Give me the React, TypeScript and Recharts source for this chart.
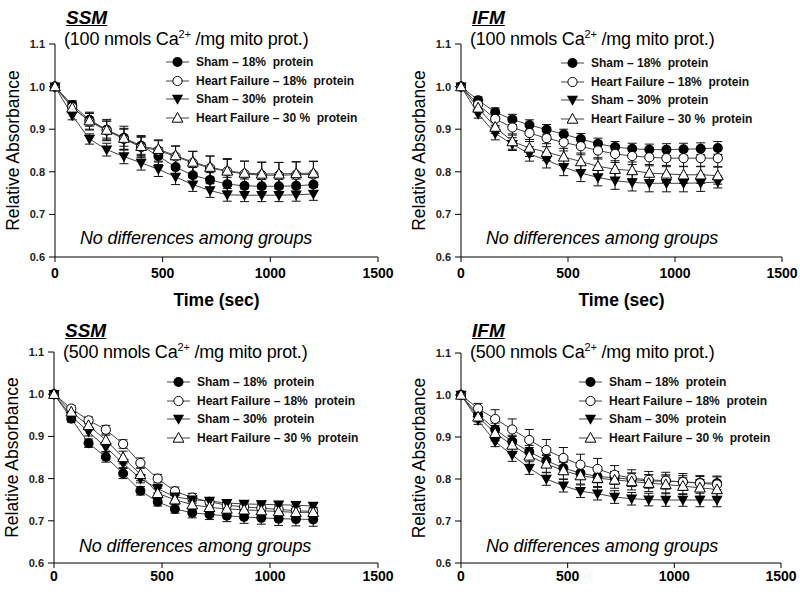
import React from "react";
import { LineChart, Line, XAxis, YAxis, ErrorBar } from "recharts";

const TIME = [0, 80, 160, 240, 320, 400, 480, 560, 640, 720, 800, 880, 960, 1040, 1120, 1200];
const X_TICKS = [0, 500, 1000, 1500];
const Y_TICKS = [0.6, 0.7, 0.8, 0.9, 1.0, 1.1];
const SERIES_NAMES = [
  "Sham \u2013 18%  protein",
  "Heart Failure \u2013 18%  protein",
  "Sham \u2013 30%  protein",
  "Heart Failure \u2013 30 %  protein",
];

// SSM, 100 nmols Ca2+
const ssm100Sham18 = [1.0, 0.957, 0.922, 0.899, 0.88, 0.861, 0.837, 0.811, 0.792, 0.781, 0.771, 0.767, 0.766, 0.766, 0.767, 0.77];
const ssm100Sham18Err = [0, 0.01, 0.015, 0.02, 0.02, 0.02, 0.02, 0.018, 0.018, 0.017, 0.016, 0.016, 0.016, 0.016, 0.016, 0.016];
const ssm100Hf18 = [1.0, 0.952, 0.918, 0.897, 0.877, 0.858, 0.85, 0.836, 0.821, 0.809, 0.801, 0.795, 0.792, 0.792, 0.793, 0.794];
const ssm100Hf18Err = [0, 0.012, 0.02, 0.022, 0.025, 0.025, 0.025, 0.025, 0.027, 0.028, 0.03, 0.03, 0.03, 0.03, 0.03, 0.03];
const ssm100Sham30 = [1.0, 0.932, 0.877, 0.852, 0.836, 0.821, 0.806, 0.788, 0.77, 0.756, 0.746, 0.745, 0.745, 0.745, 0.746, 0.748];
const ssm100Sham30Err = [0, 0.01, 0.012, 0.015, 0.017, 0.017, 0.017, 0.018, 0.016, 0.016, 0.015, 0.015, 0.015, 0.015, 0.015, 0.015];
const ssm100Hf30 = [1.0, 0.95, 0.92, 0.898, 0.879, 0.86, 0.853, 0.838, 0.823, 0.811, 0.802, 0.797, 0.795, 0.795, 0.796, 0.797];
const ssm100Hf30Err = [0, 0.012, 0.02, 0.025, 0.028, 0.025, 0.02, 0.022, 0.025, 0.026, 0.027, 0.028, 0.028, 0.027, 0.028, 0.028];

// IFM, 100 nmols Ca2+
const ifm100Sham18 = [1.0, 0.968, 0.94, 0.923, 0.91, 0.899, 0.888, 0.877, 0.866, 0.858, 0.854, 0.852, 0.852, 0.853, 0.854, 0.856];
const ifm100Sham18Err = [0, 0.008, 0.01, 0.012, 0.012, 0.012, 0.012, 0.013, 0.013, 0.013, 0.013, 0.013, 0.014, 0.014, 0.014, 0.015];
const ifm100Hf18 = [1.0, 0.958, 0.924, 0.904, 0.891, 0.879, 0.869, 0.86, 0.85, 0.842, 0.837, 0.834, 0.832, 0.832, 0.832, 0.832];
const ifm100Hf18Err = [0, 0.01, 0.015, 0.018, 0.02, 0.02, 0.02, 0.02, 0.02, 0.02, 0.02, 0.02, 0.02, 0.02, 0.02, 0.02];
const ifm100Sham30 = [1.0, 0.936, 0.89, 0.865, 0.842, 0.827, 0.811, 0.797, 0.787, 0.779, 0.775, 0.773, 0.773, 0.773, 0.774, 0.776];
const ifm100Sham30Err = [0, 0.01, 0.015, 0.015, 0.017, 0.018, 0.02, 0.02, 0.02, 0.02, 0.02, 0.02, 0.02, 0.02, 0.02, 0.014];
const ifm100Hf30 = [1.0, 0.95, 0.905, 0.871, 0.856, 0.846, 0.835, 0.824, 0.813, 0.806, 0.803, 0.797, 0.795, 0.793, 0.793, 0.791];
const ifm100Hf30Err = [0, 0.01, 0.015, 0.018, 0.02, 0.02, 0.02, 0.02, 0.02, 0.02, 0.02, 0.02, 0.02, 0.02, 0.02, 0.02];

// SSM, 500 nmols Ca2+
const ssm500Sham18 = [1.0, 0.942, 0.884, 0.851, 0.812, 0.771, 0.745, 0.728, 0.719, 0.715, 0.712, 0.709, 0.707, 0.705, 0.704, 0.703];
const ssm500Sham18Err = [0, 0.008, 0.01, 0.012, 0.012, 0.01, 0.01, 0.01, 0.012, 0.012, 0.014, 0.015, 0.015, 0.016, 0.016, 0.016];
const ssm500Hf18 = [1.0, 0.966, 0.938, 0.916, 0.882, 0.837, 0.8, 0.77, 0.755, 0.745, 0.737, 0.733, 0.73, 0.727, 0.724, 0.722];
const ssm500Hf18Err = [0, 0.007, 0.008, 0.01, 0.01, 0.012, 0.01, 0.01, 0.01, 0.01, 0.01, 0.01, 0.01, 0.01, 0.01, 0.01];
const ssm500Sham30 = [1.0, 0.948, 0.911, 0.874, 0.836, 0.8, 0.776, 0.757, 0.75, 0.747, 0.742, 0.74, 0.739, 0.738, 0.737, 0.735];
const ssm500Sham30Err = [0, 0.008, 0.01, 0.01, 0.01, 0.01, 0.01, 0.008, 0.008, 0.008, 0.008, 0.008, 0.008, 0.008, 0.008, 0.008];
const ssm500Hf30 = [1.0, 0.958, 0.926, 0.891, 0.85, 0.81, 0.765, 0.75, 0.738, 0.732, 0.728, 0.726, 0.724, 0.722, 0.72, 0.72];
const ssm500Hf30Err = [0, 0.008, 0.01, 0.012, 0.015, 0.015, 0.012, 0.01, 0.01, 0.01, 0.01, 0.01, 0.01, 0.01, 0.01, 0.01];

// IFM, 500 nmols Ca2+
const ifm500Sham18 = [1.0, 0.954, 0.918, 0.889, 0.865, 0.844, 0.826, 0.814, 0.806, 0.803, 0.799, 0.795, 0.795, 0.793, 0.791, 0.79];
const ifm500Sham18Err = [0, 0.012, 0.015, 0.015, 0.015, 0.015, 0.015, 0.015, 0.015, 0.015, 0.015, 0.015, 0.015, 0.015, 0.015, 0.015];
const ifm500Hf18 = [1.0, 0.968, 0.943, 0.918, 0.893, 0.869, 0.85, 0.834, 0.824, 0.81, 0.802, 0.798, 0.796, 0.793, 0.79, 0.787];
const ifm500Hf18Err = [0, 0.012, 0.022, 0.025, 0.025, 0.025, 0.025, 0.025, 0.025, 0.022, 0.02, 0.02, 0.02, 0.02, 0.018, 0.02];
const ifm500Sham30 = [1.0, 0.94, 0.889, 0.857, 0.826, 0.8, 0.784, 0.771, 0.765, 0.757, 0.753, 0.751, 0.75, 0.75, 0.75, 0.75];
const ifm500Sham30Err = [0, 0.01, 0.012, 0.015, 0.015, 0.015, 0.015, 0.015, 0.015, 0.015, 0.015, 0.015, 0.015, 0.015, 0.016, 0.016];
const ifm500Hf30 = [1.0, 0.948, 0.909, 0.881, 0.855, 0.836, 0.82, 0.808, 0.802, 0.798, 0.794, 0.79, 0.787, 0.783, 0.779, 0.775];
const ifm500Hf30Err = [0, 0.012, 0.018, 0.02, 0.02, 0.02, 0.02, 0.02, 0.02, 0.02, 0.02, 0.02, 0.02, 0.02, 0.02, 0.02];

const FONT = '"Liberation Sans", Arial, sans-serif';
const LINE_COLOR = "#444";

type Shape = "dot" | "ring" | "down" | "up";
const SHAPES: Shape[] = ["dot", "ring", "down", "up"];

function buildRows(means: number[][], errs: number[][]) {
  return TIME.map((t, i) => {
    const row: Record<string, number> = { t };
    means.forEach((m, s) => {
      row[`m${s}`] = m[i];
      row[`e${s}`] = errs[s][i];
    });
    return row;
  });
}

function Marker({ cx, cy, shape }: { cx: number; cy: number; shape: Shape }) {
  if (shape === "dot") return <circle cx={cx} cy={cy} r={5} fill="#000" />;
  if (shape === "ring")
    return <circle cx={cx} cy={cy} r={4.6} fill="#fff" stroke="#000" strokeWidth={1} />;
  if (shape === "down")
    return (
      <polygon
        points={`${cx - 5.6},${cy - 4.2} ${cx + 5.6},${cy - 4.2} ${cx},${cy + 5.8}`}
        fill="#000"
      />
    );
  return (
    <polygon
      points={`${cx - 5.4},${cy + 4.2} ${cx + 5.4},${cy + 4.2} ${cx},${cy - 5.6}`}
      fill="#fff"
      stroke="#000"
      strokeWidth={1}
    />
  );
}

function LegendBox({ left, top }: { left: number; top: number }) {
  return (
    <div style={{ position: "absolute", left, top, fontFamily: FONT }}>
      {SERIES_NAMES.map((name, i) => (
        <div key={name} style={{ display: "flex", alignItems: "center", height: 18.5 }}>
          <svg width={26} height={14} style={{ marginRight: 5 }}>
            <line x1={1} y1={7} x2={24} y2={7} stroke={LINE_COLOR} strokeWidth={1} />
            <Marker cx={12.5} cy={7} shape={SHAPES[i]} />
          </svg>
          <span style={{ fontSize: 12, fontWeight: 700, whiteSpace: "pre", color: "#111" }}>
            {name}
          </span>
        </div>
      ))}
    </div>
  );
}

interface PanelProps {
  left: number;
  top: number;
  height: number;
  marginTop: number;
  marginRight: number;
  yWidth: number;
  xHeight: number;
  tickMargin: number;
  showTime: boolean;
  rows: Record<string, number>[];
  title: string;
  dose: string;
  titleTop: number;
  legendLeft: number;
  legendTop: number;
  noteTop: number;
}

function Panel(p: PanelProps) {
  const textLeft = p.left + p.yWidth + 11;
  return (
    <>
      <div style={{ position: "absolute", left: p.left, top: p.top }}>
        <LineChart
          width={400}
          height={p.height}
          data={p.rows}
          margin={{ top: p.marginTop, right: p.marginRight, bottom: 0, left: 0 }}
        >
          <XAxis
            dataKey="t"
            type="number"
            domain={[0, 1500]}
            ticks={X_TICKS}
            height={p.xHeight}
            stroke="#000"
            tickSize={5}
            tickMargin={p.tickMargin}
            tick={{ fill: "#000", fontSize: 14, fontWeight: 700, fontFamily: FONT }}
            label={
              p.showTime
                ? {
                    value: "Time (sec)",
                    position: "insideBottom",
                    offset: 4,
                    style: { fill: "#000", fontSize: 17.5, fontWeight: 700, fontFamily: FONT },
                  }
                : undefined
            }
          />
          <YAxis
            type="number"
            domain={[0.6, 1.1]}
            ticks={Y_TICKS}
            width={p.yWidth}
            stroke="#000"
            tickSize={6}
            tickMargin={4}
            tickFormatter={(v: number) => v.toFixed(1)}
            tick={{ fill: "#222", fontSize: 11, fontWeight: 700, fontFamily: FONT }}
            label={{
              value: "Relative Absorbance",
              angle: -90,
              position: "insideLeft",
              offset: 13 + (p.yWidth - 55),
              style: { textAnchor: "middle", fill: "#000", fontSize: 17.5, fontFamily: FONT },
            }}
          />
          {SHAPES.map((shape, s) => (
            <Line
              key={shape}
              dataKey={`m${s}`}
              stroke={LINE_COLOR}
              strokeWidth={1}
              isAnimationActive={false}
              dot={(d: any) => (
                <Marker key={`${shape}-${d.index}`} cx={d.cx} cy={d.cy} shape={shape} />
              )}
              activeDot={false}
            >
              <ErrorBar
                dataKey={`e${s}`}
                direction="y"
                width={4.5}
                stroke="#111"
                strokeWidth={1}
                isAnimationActive={false}
              />
            </Line>
          ))}
        </LineChart>
      </div>
      <div
        style={{
          position: "absolute",
          left: textLeft,
          top: p.titleTop,
          fontFamily: FONT,
          fontSize: 19,
          fontWeight: 700,
          fontStyle: "italic",
          textDecoration: "underline",
        }}
      >
        {p.title}
      </div>
      <div
        style={{
          position: "absolute",
          left: textLeft - 2,
          top: p.titleTop + 21,
          fontFamily: FONT,
          fontSize: 18,
          letterSpacing: -0.2,
          whiteSpace: "nowrap",
        }}
      >
        ({p.dose} nmols Ca<sup style={{ fontSize: 11 }}>2+</sup> /mg mito prot.)
      </div>
      <LegendBox left={p.legendLeft} top={p.legendTop} />
      <div
        style={{
          position: "absolute",
          left: textLeft + 14,
          top: p.noteTop,
          fontFamily: FONT,
          fontSize: 18,
          fontStyle: "italic",
          letterSpacing: -0.15,
          whiteSpace: "nowrap",
        }}
      >
        No differences among groups
      </div>
    </>
  );
}

export default function App() {
  const tl = buildRows(
    [ssm100Sham18, ssm100Hf18, ssm100Sham30, ssm100Hf30],
    [ssm100Sham18Err, ssm100Hf18Err, ssm100Sham30Err, ssm100Hf30Err]
  );
  const tr = buildRows(
    [ifm100Sham18, ifm100Hf18, ifm100Sham30, ifm100Hf30],
    [ifm100Sham18Err, ifm100Hf18Err, ifm100Sham30Err, ifm100Hf30Err]
  );
  const bl = buildRows(
    [ssm500Sham18, ssm500Hf18, ssm500Sham30, ssm500Hf30],
    [ssm500Sham18Err, ssm500Hf18Err, ssm500Sham30Err, ssm500Hf30Err]
  );
  const br = buildRows(
    [ifm500Sham18, ifm500Hf18, ifm500Sham30, ifm500Hf30],
    [ifm500Sham18Err, ifm500Hf18Err, ifm500Sham30Err, ifm500Hf30Err]
  );

  return (
    <div
      style={{
        position: "absolute",
        left: 0,
        top: 0,
        width: 800,
        height: 597,
        overflow: "hidden",
        background: "#fff",
        color: "#000",
      }}
    >
      <Panel
        left={0}
        top={0}
        height={310}
        marginTop={44}
        marginRight={22}
        yWidth={55}
        xHeight={53}
        tickMargin={6}
        showTime
        rows={tl}
        title="SSM"
        dose="100"
        titleTop={7}
        legendLeft={165}
        legendTop={53}
        noteTop={228}
      />
      <Panel
        left={400}
        top={0}
        height={310}
        marginTop={44}
        marginRight={18}
        yWidth={61}
        xHeight={53}
        tickMargin={6}
        showTime
        rows={tr}
        title="IFM"
        dose="100"
        titleTop={7}
        legendLeft={560}
        legendTop={54}
        noteTop={228}
      />
      <Panel
        left={0}
        top={300}
        height={297}
        marginTop={52}
        marginRight={22}
        yWidth={54}
        xHeight={34}
        tickMargin={3}
        showTime={false}
        rows={bl}
        title="SSM"
        dose="500"
        titleTop={320}
        legendLeft={166}
        legendTop={373}
        noteTop={536}
      />
      <Panel
        left={400}
        top={300}
        height={297}
        marginTop={53}
        marginRight={19}
        yWidth={61}
        xHeight={34}
        tickMargin={3}
        showTime={false}
        rows={br}
        title="IFM"
        dose="500"
        titleTop={320}
        legendLeft={578}
        legendTop={373}
        noteTop={536}
      />
    </div>
  );
}
